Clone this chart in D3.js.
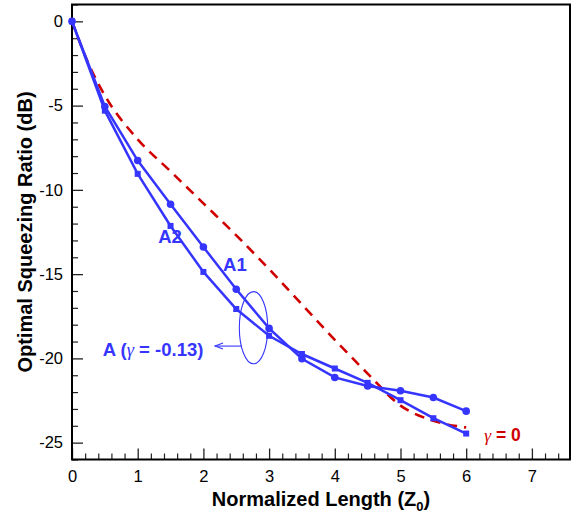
<!DOCTYPE html>
<html>
<head>
<meta charset="utf-8">
<script src="https://cdn.jsdelivr.net/npm/d3@7"></script>
<style>
  html, body { margin: 0; padding: 0; background: #fff; }
  svg { display: block; font-family: "Liberation Sans", Arial, Helvetica, sans-serif; }
</style>
</head>
<body>
<svg id="chart" width="573" height="516"></svg>
<script>
// ---- data ----
const xValues = [0, 0.5, 1, 1.5, 2, 2.5, 3, 3.5, 4, 4.5, 5, 5.5, 6];
const seriesA1 = [0, -5.05, -8.26, -10.85, -13.39, -15.9, -18.22, -20.02, -21.13, -21.64, -21.92, -22.32, -23.13];
const seriesA2 = [0, -5.3, -9.05, -12.14, -14.87, -17.07, -18.66, -19.74, -20.6, -21.45, -22.48, -23.55, -24.46];
const gammaZeroX = [0, 0.25, 0.5, 1, 1.5, 2, 2.5, 3, 3.5, 4, 4.5, 5, 5.5, 6];
const gammaZeroY = [0, -2.5, -4.4, -7.0, -8.9, -10.8, -12.7, -14.7, -16.8, -18.9, -20.9, -22.8, -23.7, -24.1];
const xTicks = [0, 1, 2, 3, 4, 5, 6, 7];
const yTicks = [0, -5, -10, -15, -20, -25];
const xTitle = "Normalized Length (Z";
const xTitleSub = "0";
const yTitle = "Optimal Squeezing Ratio (dB)";
const labelA1 = "A1";
const labelA2 = "A2";
const labelAPre = "A (";
const labelAGamma = "γ";
const labelAPost = " = -0.13)";
const labelGamma = "γ";
const labelGammaPost = " = 0";

// ---- layout ----
const svg = d3.select("#chart");
const pLeft = 72, pRight = 570, pTop = 4.5, pBottom = 459.5;
const x = d3.scaleLinear().domain([0, 7.58]).range([pLeft, pRight]);
const y = d3.scaleLinear().domain([-26, 1]).range([pBottom, pTop]);

const blue = "#3535ff";
const red = "#d00000";
const fontFam = '"Liberation Sans", Arial, Helvetica, sans-serif';
const serifFam = '"Liberation Serif", "DejaVu Serif", serif';

// minor/major ticks (inward)
const xMinor = d3.range(0, 7.58, 0.2).filter(v => Math.abs(v - Math.round(v)) > 1e-6);
const yMinor = d3.range(-26, 1.001, 1).filter(v => v % 5 !== 0);

const gx = svg.append("g").attr("transform", `translate(0,${pBottom})`);
gx.call(d3.axisBottom(x).tickValues(xTicks).tickSize(-11).tickFormat(d => String(d)));
gx.select(".domain").remove();
gx.selectAll(".tick line").attr("stroke", "#222").attr("stroke-width", 1.3);
gx.selectAll(".tick text").attr("font-size", 16.5).attr("font-family", fontFam).attr("fill", "#000").attr("dy", "0.71em").attr("y", 11);

const gxm = svg.append("g").attr("transform", `translate(0,${pBottom})`);
gxm.call(d3.axisBottom(x).tickValues(xMinor).tickSize(-6).tickFormat(""));
gxm.select(".domain").remove();
gxm.selectAll(".tick line").attr("stroke", "#222").attr("stroke-width", 1.2);

const gy = svg.append("g").attr("transform", `translate(${pLeft},0)`);
gy.call(d3.axisLeft(y).tickValues(yTicks).tickSize(-11).tickFormat(d => String(d)));
gy.select(".domain").remove();
gy.selectAll(".tick line").attr("stroke", "#222").attr("stroke-width", 1.3);
gy.selectAll(".tick text").attr("font-size", 16.5).attr("font-family", fontFam).attr("fill", "#000").attr("x", -9);

const gym = svg.append("g").attr("transform", `translate(${pLeft},0)`);
gym.call(d3.axisLeft(y).tickValues(yMinor).tickSize(-6).tickFormat(""));
gym.select(".domain").remove();
gym.selectAll(".tick line").attr("stroke", "#222").attr("stroke-width", 1.2);

// frame
svg.append("rect")
  .attr("x", pLeft).attr("y", pTop)
  .attr("width", pRight - pLeft).attr("height", pBottom - pTop)
  .attr("fill", "none").attr("stroke", "#000").attr("stroke-width", 2);

// gamma = 0 dashed curve
const redData = gammaZeroX.map((v, i) => [v, gammaZeroY[i]]);
svg.append("path")
  .datum(redData)
  .attr("fill", "none")
  .attr("stroke", red)
  .attr("stroke-width", 2.6)
  .attr("stroke-dasharray", "10,7")
  .attr("d", d3.line().x(d => x(d[0])).y(d => y(d[1])).curve(d3.curveMonotoneX));

// blue series
const line = d3.line().x(d => x(d[0])).y(d => y(d[1]));
const a1 = xValues.map((v, i) => [v, seriesA1[i]]);
const a2 = xValues.map((v, i) => [v, seriesA2[i]]);

svg.append("path").datum(a2).attr("fill", "none").attr("stroke", blue).attr("stroke-width", 2.5).attr("d", line);
svg.append("path").datum(a1).attr("fill", "none").attr("stroke", blue).attr("stroke-width", 2.5).attr("d", line);

svg.append("g").selectAll("rect").data(a2).join("rect")
  .attr("x", d => x(d[0]) - 3).attr("y", d => y(d[1]) - 3)
  .attr("width", 6).attr("height", 6).attr("fill", blue);

svg.append("g").selectAll("circle").data(a1).join("circle")
  .attr("cx", d => x(d[0])).attr("cy", d => y(d[1])).attr("r", 3.8).attr("fill", blue);

// annotations
function addText(parts, xv, yv, color, size) {
  const t = svg.append("text")
    .attr("x", x(xv)).attr("y", y(yv))
    .attr("font-size", size).attr("font-weight", "bold")
    .attr("font-family", fontFam).attr("fill", color);
  parts.forEach(p => {
    const s = t.append("tspan").text(p.t);
    if (p.greek) s.attr("font-family", serifFam).attr("font-style", "italic").attr("font-weight", "normal");
  });
}
addText([{t: labelA2}], 1.313, -13.14, blue, 18.5);
addText([{t: labelA1}], 2.30, -14.8, blue, 18.5);
addText([{t: labelAPre}, {t: labelAGamma, greek: true}, {t: labelAPost}], 0.467, -19.86, blue, 18.5);
addText([{t: labelGamma, greek: true}, {t: labelGammaPost}], 6.275, -24.89, red, 17.5);

// ellipse and arrow
svg.append("ellipse")
  .attr("cx", x(2.763)).attr("cy", y(-18.18))
  .attr("rx", x(0.216) - x(0)).attr("ry", y(0) - y(2.14))
  .attr("fill", "none").attr("stroke", blue).attr("stroke-width", 1.1);

const ax0 = x(2.583), ax1 = x(2.177), ay = y(-19.27);
svg.append("line").attr("x1", ax0).attr("y1", ay).attr("x2", ax1).attr("y2", ay)
  .attr("stroke", blue).attr("stroke-width", 1.1);
svg.append("path")
  .attr("d", `M${ax1 + 8},${ay - 3} L${ax1},${ay} L${ax1 + 8},${ay + 3}`)
  .attr("fill", "none").attr("stroke", blue).attr("stroke-width", 1.1);

// axis titles
const xt = svg.append("text")
  .attr("x", (pLeft + pRight) / 2).attr("y", 506)
  .attr("text-anchor", "middle")
  .attr("font-size", 20).attr("font-weight", "bold").attr("font-family", fontFam).attr("fill", "#000");
xt.append("tspan").text(xTitle);
xt.append("tspan").attr("font-size", 13).attr("dy", 5).text(xTitleSub);
xt.append("tspan").attr("dy", -5).text(")");

svg.append("text")
  .attr("transform", `translate(32,${(pTop + pBottom) / 2}) rotate(-90)`)
  .attr("text-anchor", "middle")
  .attr("font-size", 20).attr("font-weight", "bold").attr("font-family", fontFam).attr("fill", "#000")
  .text(yTitle);
</script>
</body>
</html>
